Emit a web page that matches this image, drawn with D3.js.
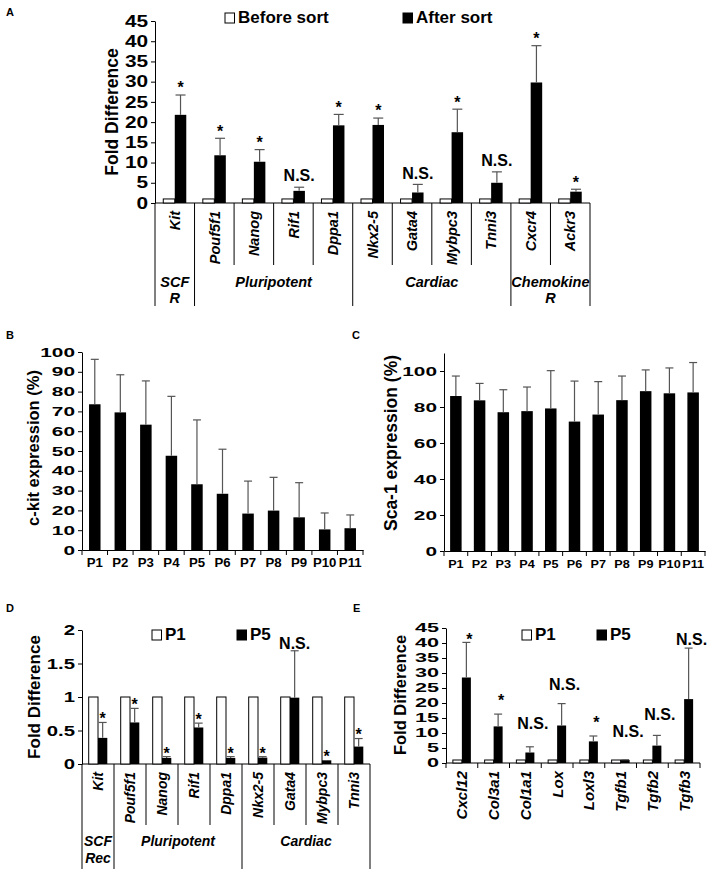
<!DOCTYPE html>
<html><head><meta charset="utf-8">
<script src="https://cdn.jsdelivr.net/npm/d3@7"></script>
<style>
body{margin:0;background:#fff;}
svg text{font-family:"Liberation Sans",Arial,Helvetica,sans-serif;font-weight:bold;fill:#000;}
</style></head><body>
<svg id="chart" width="708" height="869"></svg>
<script>
// ---------- DATA ----------
const genesA = ["Kit","Pouf5f1","Nanog","Rif1","Dppa1","Nkx2-5","Gata4","Mybpc3","Tnni3","Cxcr4","Ackr3"];
const beforeSortA = [1,1,1,1,1,1,1,1,1,1,1];
const afterSortA = [21.8,11.8,10.2,3.0,19.2,19.3,2.6,17.5,5.0,29.8,2.8];
const afterSortErrA = [4.9,4.2,3.0,0.9,2.7,1.7,2.0,5.7,2.7,9.1,0.6];
const sigA = ["*","*","*","N.S.","*","*","N.S.","*","N.S.","*","*"];
const groupNamesA = [["SCF","R"],["Pluripotent"],["Cardiac"],["Chemokine","R"]];
const groupStartsA = [0,1,5,9,11];
const ticksA = [0,5,10,15,20,25,30,35,40,45];
const legendA = ["Before sort","After sort"];

const passages = ["P1","P2","P3","P4","P5","P6","P7","P8","P9","P10","P11"];
const ckitB = [73.6,69.5,63.3,47.6,33.2,28.4,18.4,19.9,16.5,10.4,11.0];
const ckitErrB = [22.7,19.0,22.1,30.0,32.5,22.5,16.4,16.8,17.5,8.3,6.7];
const ticksB = [0,10,20,30,40,50,60,70,80,90,100];

const sca1C = [86.1,83.7,77.1,77.7,79.2,71.9,75.8,83.8,88.8,87.6,88.1];
const sca1ErrC = [11.1,9.4,12.5,13.4,21.0,22.5,18.3,13.4,11.8,14.1,16.6];
const ticksC = [0,20,40,60,80,100];

const genesD = ["Kit","Pouf5f1","Nanog","Rif1","Dppa1","Nkx2-5","Gata4","Mybpc3","Tnni3"];
const p1D = [1,1,1,1,1,1,1,1,1];
const p5D = [0.39,0.62,0.09,0.545,0.09,0.095,0.99,0.055,0.26];
const p5ErrD = [0.23,0.21,0.02,0.065,0.02,0.015,0.70,0.005,0.12];
const sigD = ["*","*","*","*","*","*","N.S.","*","*"];
const groupNamesD = [["SCF","Rec"],["Pluripotent"],["Cardiac"]];
const groupStartsD = [0,1,5,9];
const ticksD = [0,0.5,1,1.5,2];
const legendDE = ["P1","P5"];

const genesE = ["Cxcl12","Col3a1","Col1a1","Lox","Loxl3","Tgfb1","Tgfb2","Tgfb3"];
const p1E = [1,1,1,1,1,1,1,1];
const p5E = [28.5,12.2,3.5,12.5,7.2,1.0,5.8,21.3];
const p5ErrE = [11.7,4.1,1.9,7.3,1.8,0.1,3.4,17.0];
const sigE = ["*","*","N.S.","N.S.","*","N.S.","N.S.","N.S."];
const sigPosE = [42.8,22.2,13.3,26.1,15.1,10.5,16.1,41.1];
const ticksE = [0,5,10,15,20,25,30,35,40,45];

// ---------- DRAWING ----------
const svg = d3.select("#chart");
const ERR = "#555";

function stretch(sel, k){
  sel.each(function(){
    const w = this.getComputedTextLength();
    d3.select(this).attr("textLength", w*k).attr("lengthAdjust","spacingAndGlyphs");
  });
}

function panelLetter(t,x,y){
  svg.append("text").attr("x",x).attr("y",y).attr("font-size",11).text(t);
}

function yAxis(g, y, ticks, x0, opt){
  const ax = d3.axisLeft(y).tickValues(ticks).tickSize(opt.tickSize).tickPadding(opt.tickPad).tickSizeOuter(0)
    .tickFormat(d=>d);
  const a = g.append("g").attr("transform",`translate(${x0},0)`).call(ax);
  a.attr("font-family",null).attr("font-size",null);
  a.selectAll("text").attr("font-size",opt.fs).attr("fill","#000");
  a.selectAll("line,path").attr("stroke","#000");
  stretch(a.selectAll("text"), opt.k);
  return a;
}

function yTitle(g, t, cx, cy, fs){
  g.append("text").attr("transform",`translate(${cx},${cy}) rotate(-90)`)
    .attr("text-anchor","middle").attr("dy","0.35em").attr("font-size",fs).text(t);
}

function annot(g, s, cx, cy, fs){
  const off = s==="*" ? 0.62*fs : 0.36*fs;
  g.append("text").attr("x",cx).attr("y",cy+off).attr("text-anchor","middle").attr("font-size",fs).text(s);
}

function errBar(g, cx, yTop, yBot, cap){
  g.append("line").attr("x1",cx).attr("x2",cx).attr("y1",yTop).attr("y2",yBot).attr("stroke",ERR).attr("stroke-width",1.2);
  g.append("line").attr("x1",cx-cap/2).attr("x2",cx+cap/2).attr("y1",yTop).attr("y2",yTop).attr("stroke",ERR).attr("stroke-width",1.2);
}

function legend(g, labels, xs, y, fs){
  labels.forEach((l,i)=>{
    g.append("rect").attr("x",xs[i]).attr("y",y-10).attr("width",9.5).attr("height",10)
      .attr("fill", i===0?"#fff":"#000").attr("stroke","#000").attr("stroke-width",1);
    g.append("text").attr("x",xs[i]+13).attr("y",y).attr("font-size",fs).text(l);
  });
}

function groupedPanel(o){
  const g = svg.append("g");
  const y = d3.scaleLinear().domain(o.domain).range([o.yBot,o.yTop]);
  const x = d3.scaleBand().domain(o.cats).range([o.x0,o.x1]).padding(0);
  yAxis(g,y,o.ticks,o.x0,o);
  g.append("line").attr("x1",o.x0).attr("x2",o.x1).attr("y1",y(0)).attr("y2",y(0)).attr("stroke","#000");
  const bw = o.barW;
  o.cats.forEach((c,i)=>{
    const cx = x(c)+x.bandwidth()/2;
    g.append("rect").attr("x",cx-bw).attr("width",bw).attr("y",y(o.a[i])).attr("height",y(0)-y(o.a[i]))
      .attr("fill","#fff").attr("stroke","#000").attr("stroke-width",1);
    g.append("rect").attr("x",cx).attr("width",bw).attr("y",y(o.b[i])).attr("height",y(0)-y(o.b[i]))
      .attr("fill","#000");
    const bc = cx + bw/2;
    if(o.bErr[i]>0.006) errBar(g,bc,y(o.b[i]+o.bErr[i]),y(o.b[i]),o.cap);
    const sy = o.sigPos ? y(o.sigPos[i]) : y(o.b[i]+o.bErr[i]) - o.sigGap;
    annot(g,o.sig[i],bc+(o.sigDx||0),sy,o.sigFs);
    g.append("text").attr("transform",`translate(${cx},${o.labelEnd}) rotate(-90)`)
      .attr("text-anchor","end").attr("dy","0.36em").attr("font-style","italic")
      .attr("font-size",o.labelFs).text(c);
  });
  if(o.boundTicks){
    o.cats.concat([null]).forEach(c=>{
      const bx = c===null ? o.x1 : x(c);
      g.append("line").attr("x1",bx).attr("x2",bx).attr("y1",y(0)).attr("y2",y(0)+5).attr("stroke","#000");
    });
  }
  if(o.groupStarts){
    const gs = o.groupStarts;
    o.cats.concat([null]).forEach((c,i)=>{
      const bx = c===null ? o.x1 : x(c);
      const isGroup = gs.includes(i);
      g.append("line").attr("x1",bx).attr("x2",bx).attr("y1",y(0))
        .attr("y2", isGroup ? o.tableBot : o.innerBot).attr("stroke","#000");
    });
    o.groupNames.forEach((nm,k)=>{
      const a = x(o.cats[gs[k]]), b = gs[k+1]>=o.cats.length ? o.x1 : x(o.cats[gs[k+1]]);
      nm.forEach((line,j)=>{
        g.append("text").attr("x",(a+b)/2).attr("y",o.groupY+j*o.groupLH).attr("text-anchor","middle")
          .attr("font-style","italic").attr("font-size",o.groupFs).text(line);
      });
    });
  }
  yTitle(g,o.title,o.titleX,o.titleY,o.titleFs);
  legend(g,o.legend,o.legendX,o.legendY,o.legendFs);
}

function simplePanel(o){
  const g = svg.append("g");
  const y = d3.scaleLinear().domain(o.domain).range([o.yBot,o.yTop]);
  const x = d3.scaleBand().domain(o.cats).range([o.x0,o.x1]).padding(0);
  yAxis(g,y,o.ticks,o.x0,o);
  const xa = d3.axisBottom(x).tickSize(0).tickPadding(o.xPad).tickSizeOuter(0);
  const a = g.append("g").attr("transform",`translate(0,${y(0)})`).call(xa);
  a.attr("font-family",null).attr("font-size",null);
  a.selectAll("text").attr("font-size",o.xFs).attr("fill","#000");
  a.selectAll("path").attr("stroke","#000");
  stretch(a.selectAll("text"), o.xk);
  o.cats.concat([null]).forEach(c=>{
    const bx = c===null ? o.x1 : x(c);
    g.append("line").attr("x1",bx).attr("x2",bx).attr("y1",y(0)).attr("y2",y(0)+5).attr("stroke","#000");
  });
  o.cats.forEach((c,i)=>{
    const cx = x(c)+x.bandwidth()/2;
    g.append("rect").attr("x",cx-o.barW/2).attr("width",o.barW).attr("y",y(o.v[i])).attr("height",y(0)-y(o.v[i])).attr("fill","#000");
    errBar(g,cx,y(o.v[i]+o.err[i]),y(o.v[i]),o.cap);
  });
  yTitle(g,o.title,o.titleX,o.titleY,o.titleFs);
}

// Panel A
panelLetter("A",6,16);
groupedPanel({cats:genesA,a:beforeSortA,b:afterSortA,bErr:afterSortErrA,sig:sigA,
  domain:[0,45],ticks:ticksA,yBot:203,yTop:21,x0:155,x1:590,barW:11.5,cap:10,
  tickSize:4,tickPad:3,fs:16,k:1.3,sigGap:11.5,sigFs:16,labelEnd:211,labelFs:14.5,
  groupStarts:groupStartsA,groupNames:groupNamesA,tableBot:306,innerBot:265,groupY:287,groupLH:16,groupFs:14.5,
  title:"Fold Difference",titleX:112,titleY:112,titleFs:17.5,
  legend:legendA,legendX:[225,403],legendY:23,legendFs:17});

// Panel B
panelLetter("B",6,339);
simplePanel({cats:passages,v:ckitB,err:ckitErrB,domain:[0,100],ticks:ticksB,yBot:550,yTop:352,
  x0:82,x1:363,barW:11.5,cap:8,tickSize:4,tickPad:3,fs:13,k:1.6,xFs:12,xk:1.1,xPad:8,
  title:"c-kit expression (%)",titleX:33,titleY:448,titleFs:16.5});

// Panel C
panelLetter("C",352,339);
simplePanel({cats:passages,v:sca1C,err:sca1ErrC,domain:[0,110],ticks:ticksC,yBot:551,yTop:353,
  x0:444,x1:705,barW:11.5,cap:8,tickSize:4,tickPad:3,fs:13,k:1.6,xFs:11.5,xk:1.1,xPad:9,
  title:"Sca-1 expression (%)",titleX:391,titleY:443,titleFs:17.5});

// Panel D
panelLetter("D",6,612);
groupedPanel({cats:genesD,a:p1D,b:p5D,bErr:p5ErrD,sig:sigD,
  domain:[0,2],ticks:ticksD,yBot:764,yTop:630,x0:82,x1:370,barW:9.3,cap:8,
  tickSize:4,tickPad:3,fs:14.5,k:1.4,sigGap:8,sigFs:16,labelEnd:772,labelFs:14,
  groupStarts:groupStartsD,groupNames:groupNamesD,tableBot:869,innerBot:825,groupY:846,groupLH:17,groupFs:14,
  title:"Fold Difference",titleX:34,titleY:697,titleFs:17,
  legend:legendDE,legendX:[152,237],legendY:640,legendFs:17});

// Panel E
panelLetter("E",353,612);
groupedPanel({cats:genesE,a:p1E,b:p5E,bErr:p5ErrE,sig:sigE,sigPos:sigPosE,
  domain:[0,45],ticks:ticksE,yBot:763,yTop:628,x0:446,x1:700,barW:9,cap:8,
  tickSize:4,tickPad:3,fs:12,k:1.8,sigFs:16,sigDx:3,labelEnd:771,labelFs:15,boundTicks:true,
  title:"Fold Difference",titleX:400,titleY:695,titleFs:16.5,
  legend:legendDE,legendX:[522,597],legendY:640,legendFs:17});
</script>
</body></html>
